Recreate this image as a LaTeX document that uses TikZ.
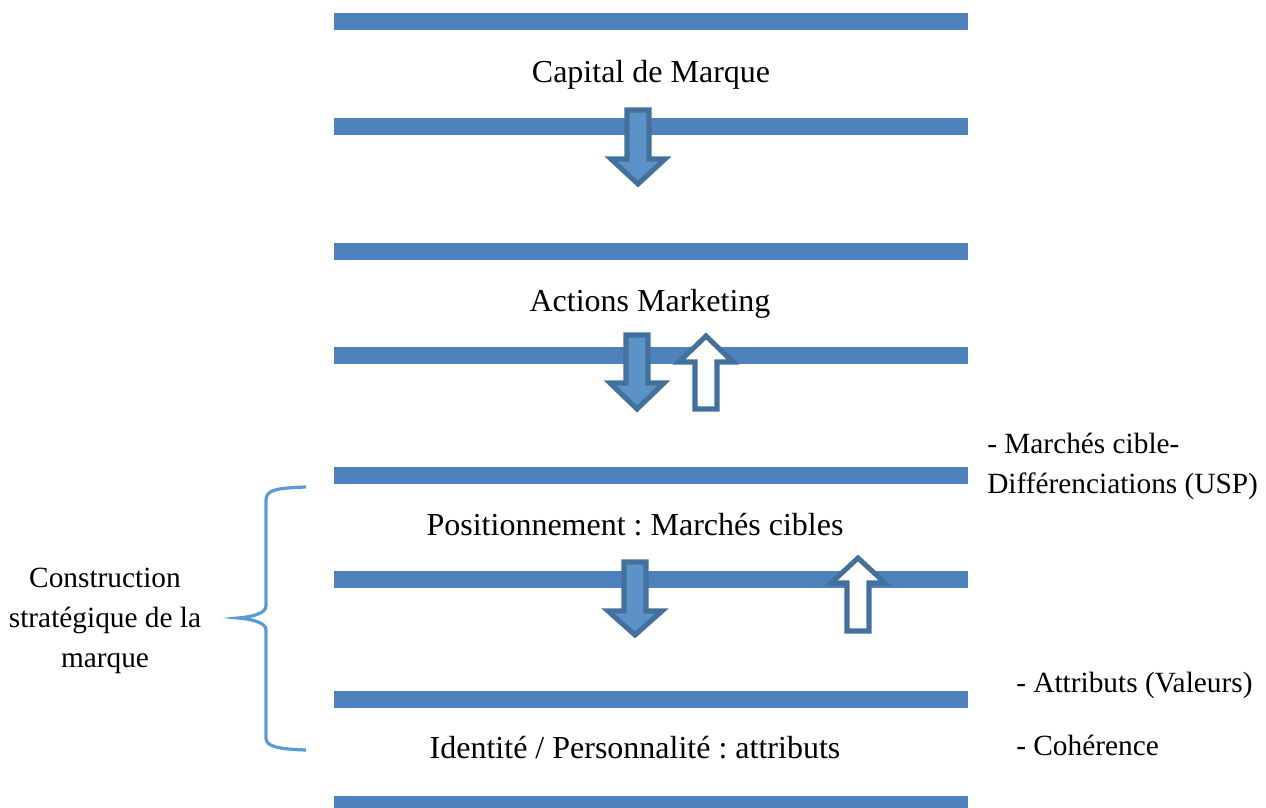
\documentclass[tikz,border=0pt]{standalone}
\usepackage{fontspec}
\setmainfont{Liberation Serif}
\frenchspacing
\definecolor{barblue}{HTML}{4F81BD}
\definecolor{arrowblue}{HTML}{5B93C9}
\definecolor{edgeblue}{HTML}{44709C}
\definecolor{braceblue}{HTML}{5B9BD5}
\begin{document}
\begin{tikzpicture}[x=0.75pt,y=-0.75pt,
        font=\fontsize{24}{30.5}\selectfont,
        txt/.style={inner sep=0pt},
        sidetxt/.style={inner sep=0pt, font=\fontsize{22}{30}\selectfont},
        barfill/.style={fill=barblue},
        downfill/.style={fill=arrowblue, draw=edgeblue, line width=3.8pt},
        upfill/.style={fill=white, draw=edgeblue, line width=3.8pt},
        bracket/.style={draw=braceblue, line width=2.4pt}]
        \useasboundingbox (0,0) rectangle (1266,807);
        \foreach \y in {13,118,243,347,467,571,691,796}{
            \fill[barfill] (334,\y) rectangle ++(634,17);
        }
        \foreach \c/\t/\b/\p in {638/110/159/184, 637/335/383/409, 635/562/611/635}{
            \filldraw[downfill] ({\c-11},\t) -- ({\c+11},\t) -- ({\c+11},\b) -- ({\c+27},\b)
                -- (\c,\p) -- ({\c-27},\b) -- ({\c-11},\b) -- cycle;
        }
        \foreach \c/\t/\b/\p in {706/409/362/336, 858/631/583/558}{
            \filldraw[upfill] ({\c-11},\t) -- ({\c+11},\t) -- ({\c+11},\b) -- ({\c+27},\b)
                -- (\c,\p) -- ({\c-27},\b) -- ({\c-11},\b) -- cycle;
        }
        \node[txt, anchor=base] (capital) at (651,82) {Capital de Marque};
        \node[txt, anchor=base] (actions) at (650,311) {Actions Marketing};
        \node[txt, anchor=base] (position) at (635,535) {Positionnement : Marchés cibles};
        \node[txt, anchor=base] (identite) at (635,758) {Identité / Personnalité : attributs};
        \node[sidetxt, anchor=west, align=left] (marches) at (987,466) {- Marchés cible-\\Différenciations (USP)};
        \node[sidetxt, anchor=base west] (attributs) at (1016,692) {- Attributs (Valeurs)};
        \node[sidetxt, anchor=base west] (coherence) at (1016,755) {- Cohérence};
        \node[sidetxt, align=center] (construction) at (105,621) {Construction\\stratégique de la\\marque};
        \draw[bracket] (306,487) .. controls (276,488) and (266,490) .. (266,500) -- (266,606)
            .. controls (266,614) and (250,617) .. (238,618)
            .. controls (250,619) and (266,622) .. (266,630) -- (266,738)
            .. controls (266,746) and (276,749) .. (306,750);
    \end{tikzpicture}
\end{document}
